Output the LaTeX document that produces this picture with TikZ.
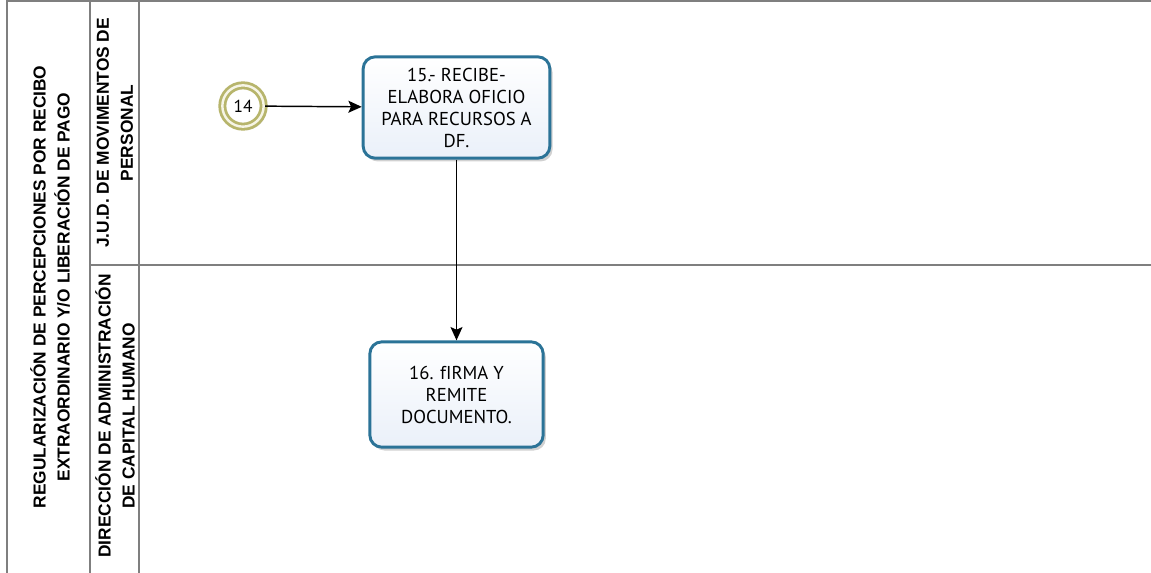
\documentclass[tikz,border=0pt]{standalone}
\usepackage{fontspec}
\setmainfont{PT Sans}
\newfontfamily\lanefont{Liberation Sans}
\usepackage{tikz}
\usetikzlibrary{arrows.meta,shadows}

\definecolor{laneline}{HTML}{7F7F7F}
\definecolor{taskedge}{HTML}{2B7397}
\definecolor{taskfill}{HTML}{EAF0F9}
\definecolor{evedge}{HTML}{B7B56C}
\definecolor{evfill}{HTML}{F6F5E6}

\begin{document}
\begin{tikzpicture}[x=0.75pt,y=-0.75pt,>=Stealth,
  lane/.style={draw=laneline,line width=1.3pt},
  lanetext/.style={rotate=90,align=center,font=\lanefont\bfseries\fontsize{13}{18}\selectfont,inner sep=0pt},
  task/.style={rectangle,rounded corners=9pt,draw=taskedge,line width=2.2pt,top color=white,bottom color=taskfill,
    align=center,font=\fontsize{14}{16.5}\selectfont,inner sep=0pt,
    drop shadow={shadow xshift=2pt,shadow yshift=-2.5pt,fill=black,opacity=0.18}},
  start-ev/.style={circle,draw=evedge,double=evfill,double distance=1.8pt,line width=2.1pt,fill=white,
    minimum size=31pt,inner sep=0pt,font=\fontsize{13}{14}\selectfont,
    drop shadow={shadow xshift=2pt,shadow yshift=-2.5pt,fill=black,opacity=0.15}},
  flow/.style={line width=1.1pt,draw=black,arrows={-Stealth[length=10pt,width=9pt,inset=2pt]}}]
\useasboundingbox (0,0) rectangle (1151,573);
\fill[white] (0,0) rectangle (1151,573);

% pool and lanes
\draw[lane] (7,573) -- (7,1) -- (1151,1);
\draw[lane] (90,1) -- (90,573);
\draw[lane] (139,1) -- (139,573);
\draw[lane] (90,265) -- (1151,265);

\node[lanetext] (pool) at (50,287) {REGULARIZACIÓN DE PERCEPCIONES POR RECIBO\\EXTRAORDINARIO Y/O LIBERACIÓN DE PAGO};
\node[lanetext] (lane-jud) at (115,133) {J.U.D. DE MOVIMENTOS DE\\PERSONAL};
\node[lanetext] (lane-dir) at (115,416) {DIRECCIÓN DE ADMINISTRACIÓN\\DE CAPITAL HUMANO};

% activities
\node[start-ev] (ev-14) at (243,106) {14};
\node[task,minimum width=140pt,minimum height=76pt] (task-15) at (456.5,107.5) {15.- RECIBE-\\ELABORA OFICIO\\PARA RECURSOS A\\DF.};
\node[task,minimum width=130pt,minimum height=79pt] (task-16) at (456.5,394.5) {16. fIRMA Y\\REMITE\\DOCUMENTO.};

\draw[flow] (ev-14) -- (task-15);
\draw[flow] (task-15) -- (task-16);
\end{tikzpicture}
\end{document}
